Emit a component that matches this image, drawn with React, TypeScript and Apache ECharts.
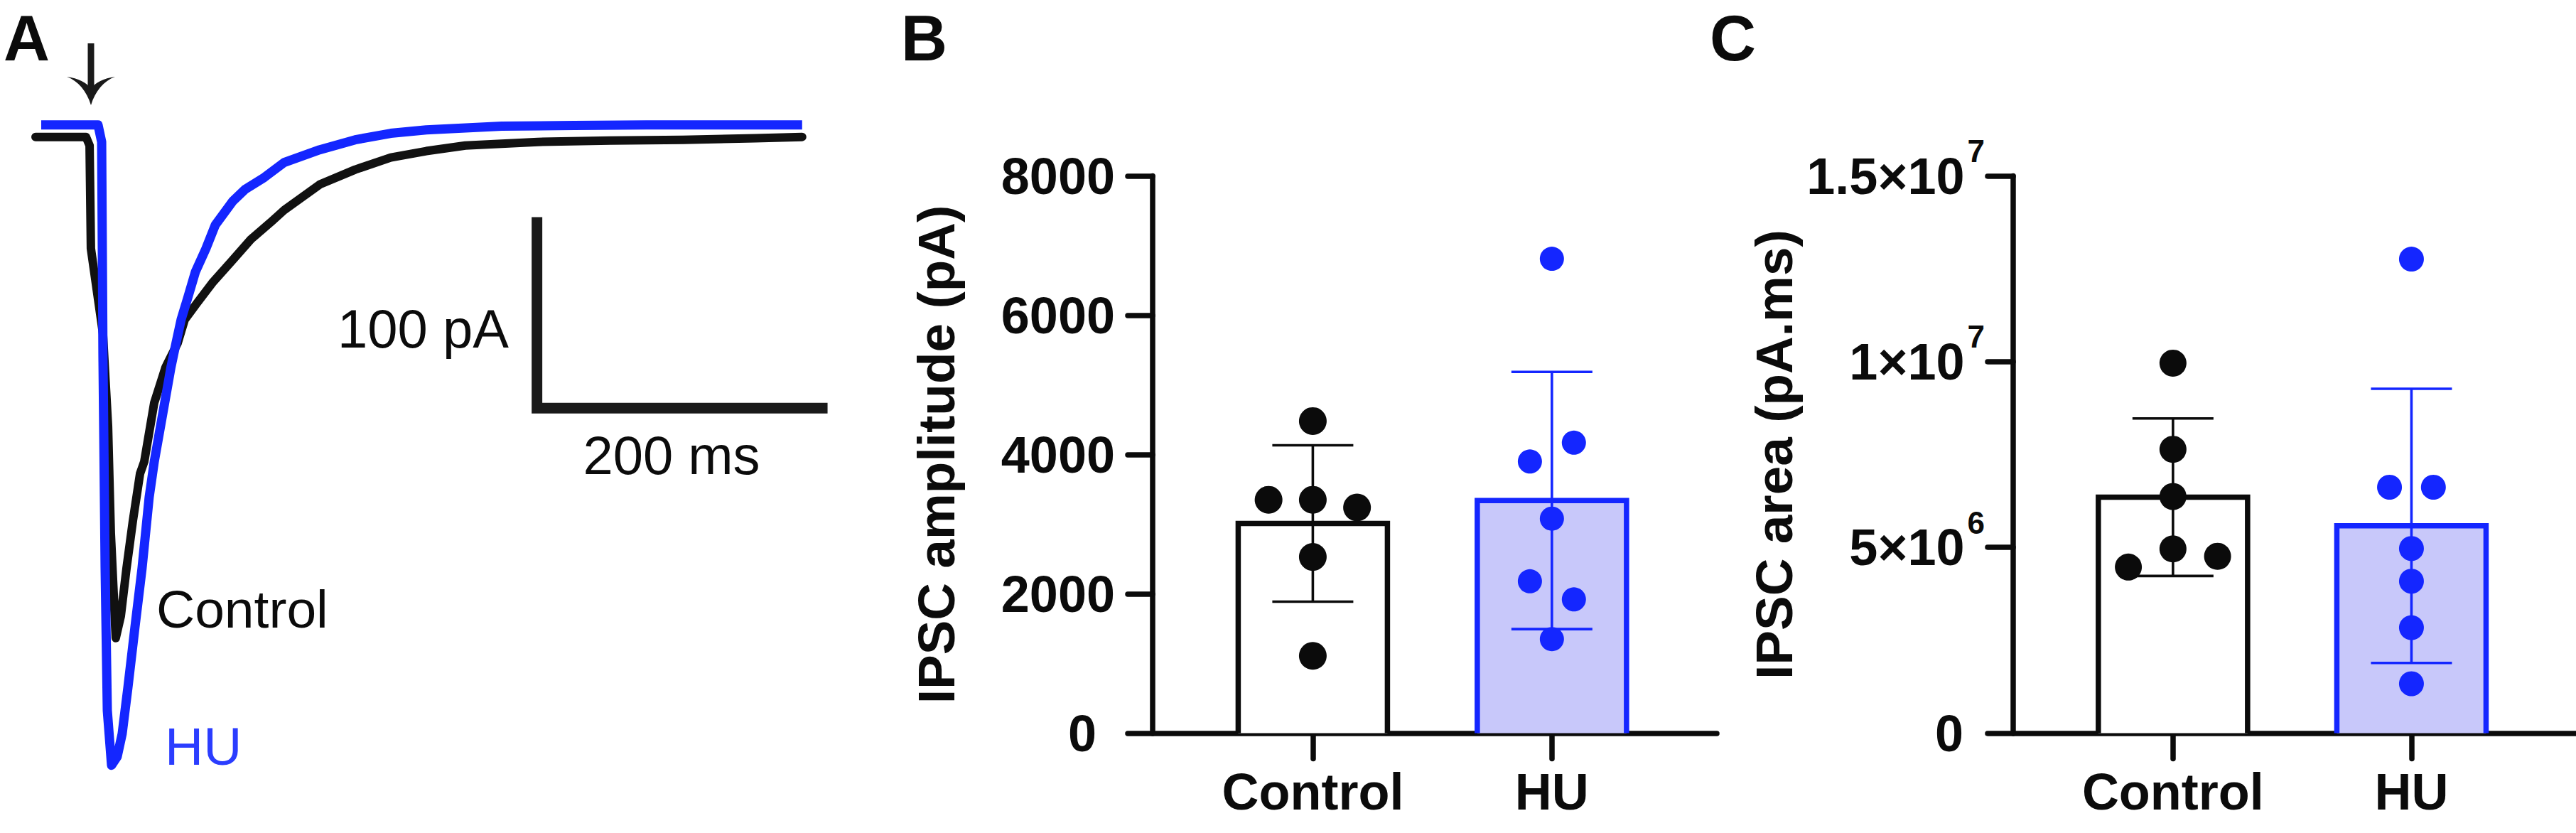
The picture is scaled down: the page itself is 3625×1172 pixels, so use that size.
import React, { useEffect, useRef } from "react";
import * as echarts from "echarts";

// ---------- Panel A: representative IPSC traces (time in ms, current in pA) ----------
const controlTime = [4.9, 39.6, 42.1, 43.0, 51.3, 54.8, 56.7, 60.1, 63.6, 67.5, 71.9, 76.8, 79.7, 86.6, 94.4, 102.7, 107.6, 115.9, 127.1, 140.3, 153.1, 167.7, 176.0, 200.5, 224.9, 249.4, 273.8, 300.7, 350.6, 400.5, 450.4, 500.2, 532.5];
const controlCurrent = [0, 0, -4.5, -58.4, -103.0, -151.4, -207.2, -262.3, -250.7, -225.8, -200.9, -176.3, -170.0, -139.1, -120.5, -107.9, -95.6, -87.1, -75.9, -64.7, -53.6, -44.0, -38.3, -24.9, -17.1, -10.8, -7.4, -4.5, -2.6, -1.9, -1.5, -0.7, 0];
const huTime = [8.8, 47.9, 50.4, 51.3, 52.8, 54.3, 57.2, 61.1, 64.5, 68.5, 73.3, 78.2, 83.1, 86.6, 98.1, 101.6, 105.1, 110.0, 114.9, 122.2, 128.6, 140.8, 149.1, 162.3, 176.0, 200.5, 224.9, 249.4, 273.8, 325.7, 375.6, 425.4, 475.3, 532.5];
const huCurrent = [6.3, 6.3, -2.6, -114.2, -225.8, -300.2, -328.9, -324.4, -312.5, -288.0, -256.7, -225.8, -188.6, -170.0, -120.5, -107.9, -95.6, -83.3, -70.7, -58.4, -46.1, -33.5, -27.5, -21.2, -13.4, -6.7, -1.5, 1.9, 3.7, 5.6, 6.0, 6.3, 6.3, 6.3];
const scaleBarTime = [350, 550]; // 200 ms
const scaleBarCurrent = [-142, -42]; // 100 pA

// ---------- Panels B and C ----------
const groups = ["Control", "HU"];
const amplitudeControl = [4480, 3350, 3350, 3240, 2530, 1110];
const amplitudeHU = [6810, 4170, 3900, 3080, 2180, 1920, 1350];
const amplitudeMean = [3010, 3340];
const amplitudeSD = [1123, 1846];
const amplitudeTicks = [0, 2000, 4000, 6000, 8000];

const areaControl = [9.96e6, 7.64e6, 6.37e6, 4.96e6, 4.76e6, 4.47e6];
const areaHU = [12.76e6, 6.62e6, 6.62e6, 4.97e6, 4.09e6, 2.84e6, 1.33e6];
const areaMean = [6.35e6, 5.58e6];
const areaSD = [2.12e6, 3.69e6];
const areaTicks = [0, 5e6, 1e7, 1.5e7];

// horizontal jitter slot of each dot (-1 left, 0 centre, 1 right)
const amplitudeControlSlot = [0, -1, 0, 1, 0, 0];
const amplitudeHUSlot = [0, 1, -1, 0, -1, 1, 0];
const areaControlSlot = [0, 0, 0, 0, 1, -1];
const areaHUSlot = [0, -1, 1, 0, 0, 0, 0];

const FONT = "'Liberation Sans', Arial, Helvetica, sans-serif";
const BLACK = "#0b0b0b";
const BLUE = "#1426ff";
const BLUE_TEXT = "#2b3dff";
const HU_FILL = "#c8c8fa";

echarts.graphic.registerShape(
  "arrowHead",
  echarts.graphic.extendPath(
    "M0,0 C-6,-20 -18,-34 -34,-40 C-18,-38 -6,-32 0,-23 C6,-32 18,-38 34,-40 C18,-34 6,-20 0,0 Z",
    {}
  )
);

const zip = (a: number[], b: number[]) => a.map((v, i) => [v, b[i]]);

function groupSeries(
  axisIndex: number,
  means: number[],
  sds: number[],
  ctrl: number[],
  hu: number[],
  ctrlSlot: number[],
  huSlot: number[],
  ctrlSpread: number,
  huSpread: number,
  ctrlSize: number,
  huSize: number
) {
  const fills = ["#ffffff", HU_FILL];
  const strokes = [BLACK, BLUE];
  const halfBar = 105;
  const halfCap = 57;
  return [
    {
      type: "custom",
      xAxisIndex: axisIndex,
      yAxisIndex: axisIndex,
      data: means.map((m, i) => [i + 1, m]),
      z: 2,
      silent: true,
      renderItem: (params: any, api: any) => {
        const i = params.dataIndex;
        const top = api.coord([api.value(0), api.value(1)]);
        const base = api.coord([api.value(0), 0]);
        const l = top[0] - halfBar;
        const r = top[0] + halfBar;
        return {
          type: "group",
          children: [
            {
              type: "rect",
              shape: { x: l, y: top[1], width: r - l, height: base[1] - top[1] },
              style: { fill: fills[i] },
            },
            {
              type: "polyline",
              shape: { points: [[l, base[1]], [l, top[1]], [r, top[1]], [r, base[1]]] },
              style: { fill: "none", stroke: strokes[i], lineWidth: 7.5, lineJoin: "miter" },
            },
          ],
        };
      },
    },
    {
      type: "custom",
      xAxisIndex: axisIndex,
      yAxisIndex: axisIndex,
      data: means.map((m, i) => [i + 1, m, sds[i]]),
      z: 3,
      silent: true,
      renderItem: (params: any, api: any) => {
        const i = params.dataIndex;
        const x = api.value(0);
        const m = api.value(1);
        const s = api.value(2);
        const hi = api.coord([x, m + s]);
        const lo = api.coord([x, m - s]);
        const st = { stroke: strokes[i], lineWidth: 3.6 };
        return {
          type: "group",
          children: [
            { type: "line", shape: { x1: hi[0], y1: hi[1], x2: lo[0], y2: lo[1] }, style: st },
            { type: "line", shape: { x1: hi[0] - halfCap, y1: hi[1], x2: hi[0] + halfCap, y2: hi[1] }, style: st },
            { type: "line", shape: { x1: lo[0] - halfCap, y1: lo[1], x2: lo[0] + halfCap, y2: lo[1] }, style: st },
          ],
        };
      },
    },
    {
      type: "scatter",
      xAxisIndex: axisIndex,
      yAxisIndex: axisIndex,
      data: ctrl.map((v, i) => [1 + ctrlSlot[i] * ctrlSpread, v]),
      symbol: "circle",
      symbolSize: ctrlSize,
      itemStyle: { color: BLACK, opacity: 1 },
      z: 4,
      silent: true,
    },
    {
      type: "scatter",
      xAxisIndex: axisIndex,
      yAxisIndex: axisIndex,
      data: hu.map((v, i) => [2 + huSlot[i] * huSpread, v]),
      symbol: "circle",
      symbolSize: huSize,
      itemStyle: { color: BLUE, opacity: 1 },
      z: 4,
      silent: true,
    },
  ];
}

const axisStroke = { color: BLACK, width: 7.5, cap: "round" };

function xGroupAxis(gridIndex: number) {
  return {
    gridIndex,
    type: "value",
    min: 0.33,
    max: 2.69,
    splitLine: { show: false },
    axisLine: { show: true, onZero: false, lineStyle: axisStroke },
    axisTick: { show: true, length: 36, customValues: [1, 2], lineStyle: axisStroke },
    axisLabel: {
      show: true,
      customValues: [1, 2],
      margin: 46,
      formatter: (v: number) => groups[Math.round(v) - 1] ?? "",
      fontFamily: FONT,
      fontWeight: "bold",
      fontSize: 72,
      color: BLACK,
    },
  };
}

function sciLabel(v: number) {
  if (v === 0) return "{m|0}{p| }";
  const e = Math.floor(Math.log10(v) + 1e-9);
  const m = +(v / Math.pow(10, e)).toFixed(2);
  return `{m|${m}×10}{e|${e}}`;
}

const letterStyle = (text: string) => ({
  text,
  fontFamily: FONT,
  fontWeight: "bold",
  fontSize: 90,
  lineHeight: 70,
  fill: BLACK,
  align: "left",
  verticalAlign: "middle",
});

export default function App() {
  const ref = useRef<HTMLDivElement>(null);

  useEffect(() => {
    if (!ref.current) return;
    const chart = echarts.init(ref.current, undefined, { renderer: "svg" });

    const option: any = {
      animation: false,
      backgroundColor: "#ffffff",
      textStyle: { fontFamily: FONT },
      grid: [
        { left: 40, top: 112, width: 1145, height: 1000, containLabel: false, outerBoundsMode: "none" },
        { left: 1622, top: 247.5, width: 794, height: 784, containLabel: false, outerBoundsMode: "none" },
        { left: 2833, top: 247.5, width: 792, height: 784, containLabel: false, outerBoundsMode: "none" },
      ],
      xAxis: [
        { gridIndex: 0, type: "value", min: 0, max: 560, show: false },
        xGroupAxis(1),
        xGroupAxis(2),
      ],
      yAxis: [
        { gridIndex: 0, type: "value", min: -342, max: 30, show: false },
        {
          gridIndex: 1,
          type: "value",
          min: amplitudeTicks[0],
          max: amplitudeTicks[amplitudeTicks.length - 1],
          interval: amplitudeTicks[1] - amplitudeTicks[0],
          splitLine: { show: false },
          axisLine: { show: true, onZero: false, lineStyle: axisStroke },
          axisTick: { show: true, length: 35, lineStyle: axisStroke },
          axisLabel: {
            margin: 53,
            formatter: (v: number) => (v === 0 ? "{z|0}" : `{b|${v}}`),
            rich: {
              b: { fontFamily: FONT, fontWeight: "bold", fontSize: 72, color: BLACK },
              z: { fontFamily: FONT, fontWeight: "bold", fontSize: 72, color: BLACK, padding: [0, 26, 0, 0] },
            },
          },
          name: "IPSC amplitude (pA)",
          nameLocation: "middle",
          nameGap: 268,
          nameTextStyle: { fontFamily: FONT, fontWeight: "bold", fontSize: 73, color: BLACK },
        },
        {
          gridIndex: 2,
          type: "value",
          min: areaTicks[0],
          max: areaTicks[areaTicks.length - 1],
          interval: areaTicks[1] - areaTicks[0],
          splitLine: { show: false },
          axisLine: { show: true, onZero: false, lineStyle: axisStroke },
          axisTick: { show: true, length: 36, lineStyle: axisStroke },
          axisLabel: {
            margin: 40,
            formatter: sciLabel,
            rich: {
              m: { fontFamily: FONT, fontWeight: "bold", fontSize: 72, color: BLACK, lineHeight: 114 },
              e: { fontFamily: FONT, fontWeight: "bold", fontSize: 44, color: BLACK, lineHeight: 44, verticalAlign: "top", padding: [0, 0, 0, 4] },
              p: { fontFamily: FONT, fontSize: 44, width: 30 },
            },
          },
          name: "IPSC area (pA.ms)",
          nameLocation: "middle",
          nameGap: 300,
          nameTextStyle: { fontFamily: FONT, fontWeight: "bold", fontSize: 73, color: BLACK },
        },
      ],
      series: [
        {
          type: "line",
          name: "Control",
          xAxisIndex: 0,
          yAxisIndex: 0,
          data: zip(controlTime, controlCurrent),
          showSymbol: false,
          symbol: "none",
          silent: true,
          z: 2,
          lineStyle: { color: "#111111", width: 12, cap: "round", join: "round" },
        },
        {
          type: "line",
          name: "HU",
          xAxisIndex: 0,
          yAxisIndex: 0,
          data: zip(huTime, huCurrent),
          showSymbol: false,
          symbol: "none",
          silent: true,
          z: 3,
          lineStyle: { color: BLUE, width: 13, cap: "butt", join: "round" },
        },
        {
          type: "line",
          name: "scale",
          xAxisIndex: 0,
          yAxisIndex: 0,
          data: [
            [scaleBarTime[0], scaleBarCurrent[1]],
            [scaleBarTime[0], scaleBarCurrent[0]],
            [scaleBarTime[1], scaleBarCurrent[0]],
          ],
          showSymbol: false,
          symbol: "none",
          silent: true,
          lineStyle: { color: "#1a1a1a", width: 15, cap: "butt", join: "miter" },
        },
        ...groupSeries(1, amplitudeMean, amplitudeSD, amplitudeControl, amplitudeHU, amplitudeControlSlot, amplitudeHUSlot, 0.185, 0.092, 39, 34),
        ...groupSeries(2, areaMean, areaSD, areaControl, areaHU, areaControlSlot, areaHUSlot, 0.187, 0.092, 38, 35),
      ],
      graphic: [
        { type: "text", x: 5, y: 54, style: letterStyle("A") },
        { type: "text", x: 1268, y: 54, style: letterStyle("B") },
        { type: "text", x: 2406, y: 54, style: letterStyle("C") },
        { type: "line", shape: { x1: 128, y1: 61, x2: 128, y2: 132 }, style: { stroke: "#1a1a1a", lineWidth: 9 } },
        { type: "arrowHead", x: 128, y: 148, style: { fill: "#1a1a1a" } },
        { type: "text", x: 220, y: 857, style: { text: "Control", fontFamily: FONT, fontSize: 75, fill: BLACK, align: "left", verticalAlign: "middle" } },
        { type: "text", x: 232, y: 1050, style: { text: "HU", fontFamily: FONT, fontSize: 75, fill: BLUE_TEXT, align: "left", verticalAlign: "middle" } },
        { type: "text", x: 475, y: 462, style: { text: "100 pA", fontFamily: FONT, fontSize: 76, fill: BLACK, align: "left", verticalAlign: "middle" } },
        { type: "text", x: 945, y: 640, style: { text: "200 ms", fontFamily: FONT, fontSize: 76, fill: BLACK, align: "center", verticalAlign: "middle" } },
      ],
    };

    chart.setOption(option);
    return () => chart.dispose();
  }, []);

  return (
    <div
      ref={ref}
      style={{ position: "absolute", left: 0, top: 0, width: 3625, height: 1172, background: "#fff" }}
    />
  );
}
